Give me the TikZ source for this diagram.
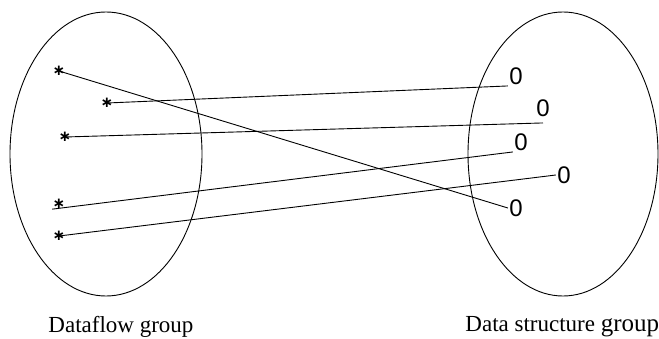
\documentclass[tikz,border=0pt]{standalone}
\usepackage{fontspec}
\setmainfont{Liberation Serif}
\newfontfamily\digitfont{Liberation Sans}
\newfontfamily\starfont{DejaVu Sans}

\begin{document}
\begin{tikzpicture}[x=1pt,y=-1pt,line width=0.9pt,
            star/.style={inner sep=0pt,font=\starfont\bfseries\fontsize{15}{15}\selectfont},
            zero/.style={inner sep=1pt,font=\digitfont\fontsize{24}{24}\selectfont},
            label/.style={inner sep=0pt,font=\fontsize{23}{23}\selectfont}]
            \useasboundingbox (0,0) rectangle (659,339);
            \draw (106,154) ellipse [x radius=96, y radius=142];
            \draw (563,154) ellipse [x radius=95, y radius=142];
            \node[star] (s1) at (59,71) {∗};
            \node[star] (s2) at (107,103) {∗};
            \node[star] (s3) at (65,137) {∗};
            \node[star] (s4) at (59,204) {∗};
            \node[star] (s5) at (59,236) {∗};
            \node[zero] (z1) at (516,76) {0};
            \node[zero] (z2) at (543,108) {0};
            \node[zero] (z3) at (521,142) {0};
            \node[zero] (z4) at (564,175) {0};
            \node[zero] (z5) at (516,208) {0};
            \draw (s1.center) -- (z5.west);
            \draw (s2.center) -- (z1.south west);
            \draw (s3.center) -- ([yshift=-5pt]z2.south);
            \draw (s4.south west) -- (z3.south west);
            \draw (s5.center) -- (z4.west);
            \node[label, anchor=west] (flow) at (48,327) {Dataflow group};
            \node[label, anchor=west] (struct) at (465,327) {Data structure {\fontsize{25}{25}\selectfont group}};
        \end{tikzpicture}
\end{document}
